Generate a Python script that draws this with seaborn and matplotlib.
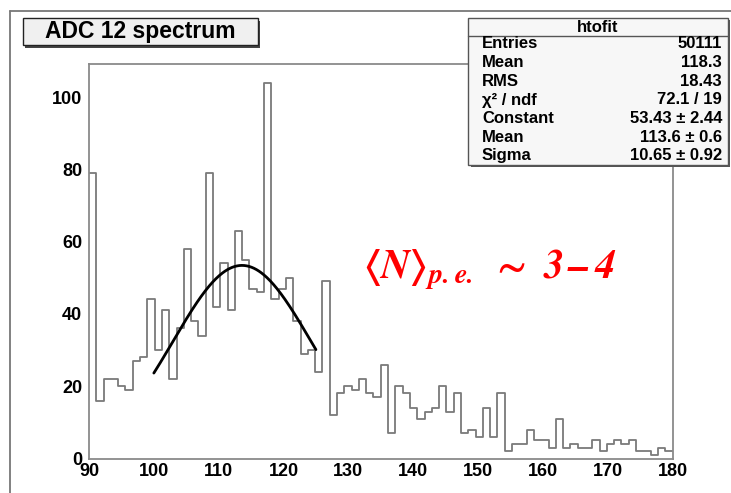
import numpy as np
import matplotlib.pyplot as plt
from matplotlib.patches import Rectangle
from matplotlib.lines import Line2D
from matplotlib.ticker import MultipleLocator
import seaborn as sns

# -----------------------------------------------
# Data (read off the ROOT canvas)
# -----------------------------------------------
x_min, x_max, n_bins = 90, 180, 80
counts = [79, 16, 22, 22, 20, 19, 27, 28, 44, 30,
          41, 22, 36, 58, 38, 34, 79, 42, 54, 41,
          63, 55, 47, 46, 104, 44, 47, 50, 38, 29,
          30, 24, 49, 12, 18, 20, 19, 22, 18, 17,
          26, 7, 20, 18, 14, 11, 13, 14, 20, 13,
          18, 7, 8, 6, 14, 6, 18, 2, 4, 4,
          8, 5, 5, 3, 11, 3, 4, 3, 3, 5,
          2, 4, 5, 4, 5, 2, 2, 1, 3, 2]

# gaussian fit parameters from the stats box
fit_constant, fit_mean, fit_sigma = 53.43, 113.6, 10.65
fit_lo, fit_hi = 100, 125

stats_title = "htofit"
stats_names = ["Entries", "Mean", "RMS", "χ² / ndf", "Constant", "Mean", "Sigma"]
stats_values = ["50111", "118.3", "18.43", "72.1 / 19",
                "53.43 ± 2.44", "113.6 ± 0.6", "10.65 ± 0.92"]
title = "ADC 12 spectrum"

# -----------------------------------------------
# Plot
# -----------------------------------------------
sns.set_style("white")
plt.rcParams['font.family'] = ['Liberation Sans', 'DejaVu Sans']
plt.rcParams['font.weight'] = 'bold'
plt.rcParams['mathtext.fontset'] = 'stix'

W, H = 731, 493
fig = plt.figure(figsize=(W / 100, H / 100), dpi=100)
ax = fig.add_axes([89 / W, 1 - 458.5 / H, (672.5 - 89) / W, (458.5 - 63.5) / H])

edges = np.linspace(x_min, x_max, n_bins + 1)
centers = (edges[:-1] + edges[1:]) / 2
sns.histplot(x=centers, weights=counts, bins=list(edges), element="step", fill=False,
             color="#7a7a7a", linewidth=1.3, ax=ax)

xf = np.linspace(fit_lo, fit_hi, 200)
yf = fit_constant * np.exp(-0.5 * ((xf - fit_mean) / fit_sigma) ** 2)
sns.lineplot(x=xf, y=yf, color="black", linewidth=2, ax=ax)

ax.set_xlim(x_min, x_max)
ax.set_ylim(0, 109.3)
ax.set_xlabel("")
ax.set_ylabel("")
ax.xaxis.set_major_locator(MultipleLocator(10))
ax.xaxis.set_minor_locator(MultipleLocator(2))
ax.yaxis.set_major_locator(MultipleLocator(20))
ax.yaxis.set_minor_locator(MultipleLocator(5))
ax.tick_params(which="both", direction="in", color="#555555", width=1,
               top=False, right=False, labelsize=13, labelcolor="black")
ax.tick_params(which="major", length=11)
ax.tick_params(which="minor", length=5.5)
ax.tick_params(axis="y", pad=5)
ax.tick_params(axis="x", pad=3)
for s in ax.spines.values():
    s.set_color("#8a8a8a")
    s.set_linewidth(1.3)

ax.text(132.3, 52,
        r'$\langle \mathbfit{N}\rangle_{\mathbfit{p.e.}}\ \sim\ \mathbfit{3}\,\mathbfit{–}\,\mathbfit{4}$',
        color="red", fontsize=29, ha="left", va="center")

# canvas border (left / top)
def fx(p): return p / W
def fy(p): return 1 - p / H

fig.add_artist(Line2D([fx(9.5), fx(9.5)], [fy(11), fy(493)], color="#777777", lw=1.3))
fig.add_artist(Line2D([fx(9.5), fx(731)], [fy(11), fy(11)], color="#777777", lw=1.3))

# title box with shadow
fig.add_artist(Rectangle((fx(25), fy(47.5)), fx(258) - fx(22.7), fy(18.3) - fy(45),
                         transform=fig.transFigure, facecolor="#444444", edgecolor="none"))
fig.add_artist(Rectangle((fx(22.7), fy(45)), fx(258) - fx(22.7), fy(18.3) - fy(45),
                         transform=fig.transFigure, facecolor="#f0f0f0", edgecolor="#222222", lw=1))
fig.text(fx(140), fy(31.5), title, ha="center", va="center", fontsize=16.5, color="black")

# stats box with shadow
fig.add_artist(Rectangle((fx(470.5), fy(167)), fx(727.5) - fx(468.3), fy(17.7) - fy(165),
                         transform=fig.transFigure, facecolor="#555555", edgecolor="none"))
fig.add_artist(Rectangle((fx(468.3), fy(165)), fx(727.5) - fx(468.3), fy(17.7) - fy(165),
                         transform=fig.transFigure, facecolor="#f7f7f7", edgecolor="#555555", lw=1))
fig.add_artist(Line2D([fx(468.3), fx(727.5)], [fy(36), fy(36)], color="#555555", lw=1))
fig.text(fx(598), fy(27), stats_title, ha="center", va="center", fontsize=12, color="black")
row_y = [44, 62.5, 81, 100, 118.5, 137, 156]
for name, val, yy in zip(stats_names, stats_values, row_y):
    fig.text(fx(482), fy(yy), name, ha="left", va="center", fontsize=12, color="black")
    fig.text(fx(722), fy(yy), val, ha="right", va="center", fontsize=12, color="black")

fig.savefig("out.png", dpi=100, facecolor="white")
